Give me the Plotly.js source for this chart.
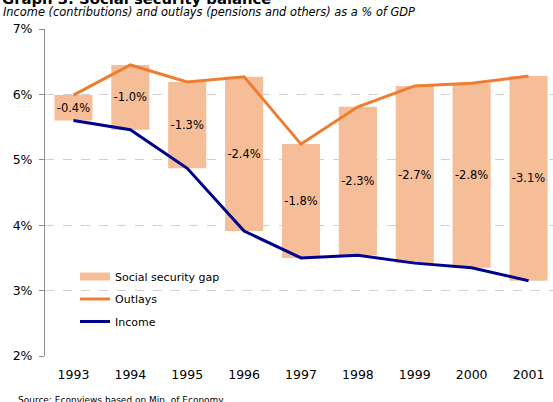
<!DOCTYPE html>
<html>
<head>
<meta charset="utf-8">
<script src="https://cdn.plot.ly/plotly-3.0.1.min.js"></script>
<style>html,body{margin:0;padding:0;background:#fff;}#chart{width:553px;height:402px;}</style>
</head>
<body>
<div id="chart"></div>
<script>
const years = ["1993","1994","1995","1996","1997","1998","1999","2000","2001"];
const outlays = [5.99, 6.45, 6.19, 6.27, 5.24, 5.81, 6.13, 6.17, 6.28];
const income = [5.60, 5.46, 4.87, 3.91, 3.50, 3.54, 3.42, 3.35, 3.15];
const gapLabels = ["-0.4%", "-1.0%", "-1.3%", "-2.4%", "-1.8%", "-2.3%", "-2.7%", "-2.8%", "-3.1%"];
const yTicks = [2, 3, 4, 5, 6, 7];
const yTickText = ["2%", "3%", "4%", "5%", "6%", "7%"];

const FONT = "DejaVu Sans, Verdana, sans-serif";
const W = 553, H = 402, L = 45, T = 29, B = 46, R = 0;
const pw = W - L - R, ph = H - T - B;
const px = x => (x - L) / pw;
const py = y => (H - B - y) / ph;
const GAP_COLOR = "#F6BE98";

const traces = [
  {
    type: "bar", name: "Social security gap", showlegend: false,
    x: years, base: income, y: outlays.map((o, i) => o - income[i]),
    marker: {color: GAP_COLOR, line: {width: 0}},
    text: gapLabels, textposition: "inside", insidetextanchor: "middle", textangle: 0,
    textfont: {family: FONT, size: 11.5, color: "#000"},
    constraintext: "none", hoverinfo: "skip"
  },
  {
    type: "scatter", mode: "lines", name: "Social security gap", legendgroup: "g1",
    x: [null], y: [null], line: {color: GAP_COLOR, width: 8}
  },
  {
    type: "scatter", mode: "lines", name: "Outlays", legendgroup: "g2",
    x: years, y: outlays, line: {color: "#ED7D31", width: 3}
  },
  {
    type: "scatter", mode: "lines", name: "Income", legendgroup: "g3",
    x: years, y: income, line: {color: "#00008E", width: 3}
  }
];

const layout = {
  width: W, height: H,
  margin: {l: L, r: R, t: T, b: B, pad: 0},
  paper_bgcolor: "#fff", plot_bgcolor: "#fff",
  font: {family: FONT, size: 12, color: "#000"},
  showlegend: true,
  bargap: 0.33,
  xaxis: {
    type: "category", range: [-0.5, 8.43],
    showgrid: false, showline: false, zeroline: false,
    ticks: "", ticklabelstandoff: 9,
    tickfont: {family: FONT, size: 12.5, color: "#000"}
  },
  yaxis: {
    range: [2, 7], tickmode: "array", tickvals: yTicks, ticktext: yTickText,
    showgrid: true, gridcolor: "#d0d0d0", griddash: "dash", gridwidth: 1,
    showline: true, linecolor: "#8c8c8c", linewidth: 1,
    ticks: "outside", ticklen: 5, tickcolor: "#8c8c8c",
    ticklabelstandoff: 4, zeroline: false,
    tickfont: {family: FONT, size: 12.5, color: "#000"}
  },
  legend: {
    x: px(75), y: py(262), xanchor: "left", yanchor: "top",
    bgcolor: "rgba(0,0,0,0)", traceorder: "grouped", tracegroupgap: 3.5,
    font: {family: FONT, size: 11, color: "#000"},
    itemwidth: 30
  },
  annotations: [
    {text: "<b>Graph 3: Social security balance</b>", xref: "paper", yref: "paper",
     x: px(0), y: py(-1.5), xanchor: "left", yanchor: "middle", showarrow: false,
     font: {family: FONT, size: 14.8, color: "#000"}},
    {text: "<i>Income (contributions) and outlays (pensions and others) as a % of GDP</i>", xref: "paper", yref: "paper",
     x: px(1), y: py(12.5), xanchor: "left", yanchor: "middle", showarrow: false,
     font: {family: FONT, size: 11.4, color: "#000"}},
    {text: "Source: Econviews based on Min. of Economy", xref: "paper", yref: "paper",
     x: px(16), y: py(400), xanchor: "left", yanchor: "middle", showarrow: false,
     font: {family: FONT, size: 9, color: "#000"}}
  ]
};

Plotly.newPlot("chart", traces, layout, {displayModeBar: false, staticPlot: true});
</script>
</body>
</html>
